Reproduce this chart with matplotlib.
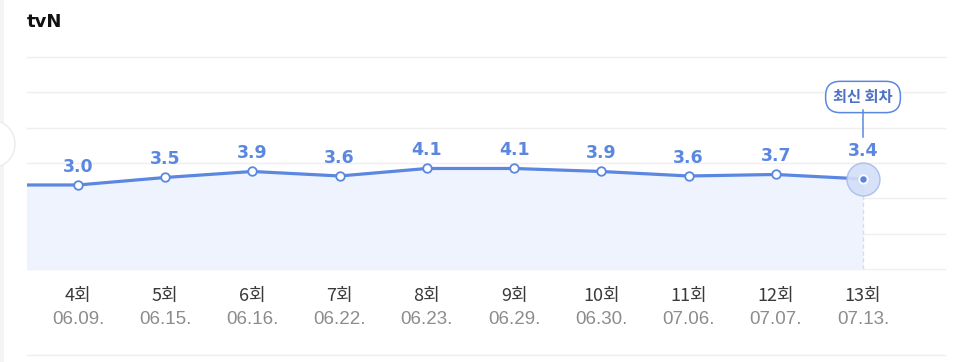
import matplotlib
matplotlib.use("Agg")
import matplotlib.pyplot as plt
from matplotlib.patches import Circle, Rectangle
from matplotlib.lines import Line2D
import matplotlib.transforms as mtransforms

plt.rcParams['font.family'] = ['Noto Sans CJK KR', 'DejaVu Sans']

title = "tvN"
episodes = ["4회", "5회", "6회", "7회", "8회", "9회", "10회", "11회", "12회", "13회"]
dates = ["06.09.", "06.15.", "06.16.", "06.22.", "06.23.", "06.29.", "06.30.", "07.06.", "07.07.", "07.13."]
ratings = [3.0, 3.5, 3.9, 3.6, 4.1, 4.1, 3.9, 3.6, 3.7, 3.4]
prev_rating = 3.0  # previous (off-screen) episode, line enters from left
badge_text = "최신 회차"

BLUE = "#5b87e0"
FILL = "#eff3fd"
GRID = "#efefef"

W, H = 960, 362
fig = plt.figure(figsize=(W / 100, H / 100), dpi=100)
fig.patch.set_facecolor("white")

# axes: x 27..945 px, y 57..269 px
ax = fig.add_axes([27 / W, (H - 269) / H, (945 - 27) / W, (269 - 57) / H])
ax.set_facecolor("none")
for s in ax.spines.values():
    s.set_visible(False)

n = len(ratings)
xs = list(range(n))
ax.set_xlim(-0.585, n - 1 + 0.94)
ylo, yhi = -2.6, 11.53
ax.set_ylim(ylo, yhi)
ax.set_xticks([])
ax.set_yticks([])

# gridlines
for i in range(7):
    yv = ylo + (yhi - ylo) * i / 6
    ax.axhline(yv, color=GRID, lw=1.0, zorder=0, clip_on=False)

# fill + line including previous episode
lx = [-1] + xs
ly = [prev_rating] + ratings
ax.fill_between(lx, ly, ylo, color=FILL, zorder=1, lw=0)
ax.plot(lx, ly, color=BLUE, lw=2.3, zorder=3, solid_capstyle="round")

# dashed vertical at latest
ax.plot([xs[-1], xs[-1]], [ylo, ratings[-1]], color="#d5dcec", lw=1.0,
        ls=(0, (3, 2)), zorder=2)

# markers
ax.scatter(xs[:-1], ratings[:-1], s=38, facecolor="white", edgecolor=BLUE,
           linewidth=1.3, zorder=4)
ax.scatter([xs[-1]], [ratings[-1]], s=560, facecolor="#d3def8", edgecolor="#a9bff0",
           linewidth=1.1, alpha=0.9, zorder=4)
ax.scatter([xs[-1]], [ratings[-1]], s=36, facecolor=BLUE, edgecolor="white",
           linewidth=1.3, zorder=5)

# value labels
for i, (x, v) in enumerate(zip(xs, ratings)):
    off = 28 if i == n - 1 else 18
    ax.annotate(f"{v:.1f}", (x, v), xytext=(0, off), textcoords="offset pixels",
                ha="center", va="center", fontsize=12.5, fontweight="bold",
                color=BLUE, family=["DejaVu Sans"], zorder=6)

# x labels
trans = mtransforms.blended_transform_factory(ax.transData, ax.transAxes)
for x, ep, d in zip(xs, episodes, dates):
    ax.annotate(ep, (x, 0), xycoords=trans, xytext=(0, -27), textcoords="offset pixels",
                ha="center", va="center", fontsize=13, color="#3a3a3a")
    ax.annotate(d, (x, 0), xycoords=trans, xytext=(0, -51), textcoords="offset pixels",
                ha="center", va="center", fontsize=13.5, color="#8c8c8c",
                family=["Liberation Sans", "DejaVu Sans"])

# badge
ax.annotate(badge_text, (xs[-1], ratings[-1]), xytext=(0, 82), textcoords="offset pixels",
            ha="center", va="center", fontsize=11, fontweight="bold", color="#4d71c4",
            bbox=dict(boxstyle="round,pad=0.5,rounding_size=0.95", fc="white", ec=BLUE, lw=1.1),
            zorder=7)
# connector
p0 = ax.transData.transform((xs[-1], ratings[-1]))
fig.add_artist(Line2D([p0[0] / W, p0[0] / W], [(p0[1] + 42) / H, (p0[1] + 69) / H],
                      transform=fig.transFigure, color=BLUE, lw=1.1))

# title
fig.text(27 / W, 1 - 22 / H, title, ha="left", va="center", fontsize=13,
         fontweight="bold", color="#111111", family=["DejaVu Sans"])

# bottom separator
fig.add_artist(Line2D([27 / W, 945 / W], [1 - 355 / H, 1 - 355 / H],
                      transform=fig.transFigure, color="#eeeeee", lw=1.0))
# left panel edge
fig.add_artist(Rectangle((0, 0), 4 / W, 1, transform=fig.transFigure,
                         facecolor="#f4f4f4", edgecolor="none"))
# left circle button
fig.add_artist(Circle((-9, H - 144), 24, transform=None, facecolor="white",
                      edgecolor="#ebebeb", lw=1.0))

fig.savefig("out.png", dpi=100, facecolor="white")
